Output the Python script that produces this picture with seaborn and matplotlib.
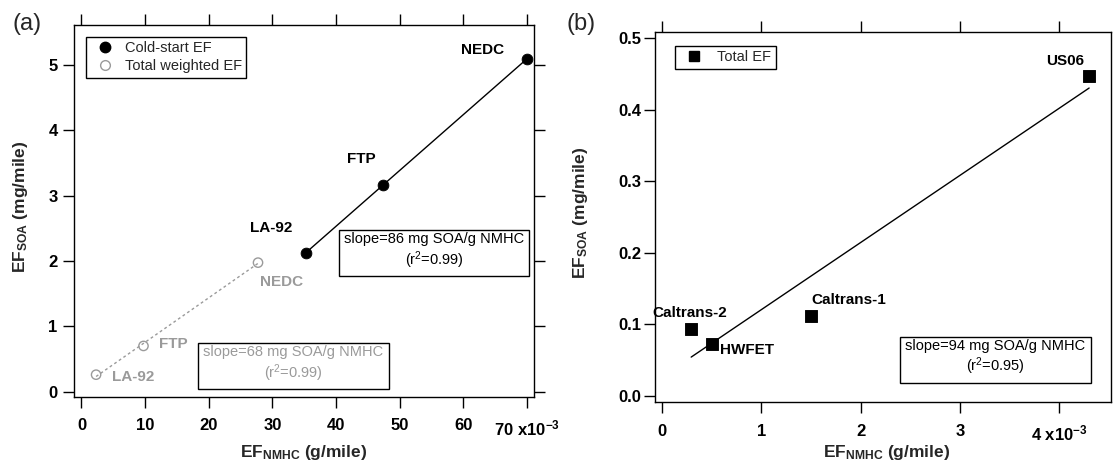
import numpy as np
import pandas as pd
import matplotlib
matplotlib.use("Agg")
import matplotlib.pyplot as plt
import seaborn as sns
from matplotlib.lines import Line2D

# ---------------- data ----------------
cycles_a = ["LA-92", "FTP", "NEDC"]
cold_nmhc = [35.25, 47.4, 70.0]      # x10^-3 g/mile
cold_soa = [2.12, 3.17, 5.09]        # mg/mile
total_nmhc = [2.3, 9.75, 27.75]
total_soa = [0.26, 0.70, 1.975]

cycles_b = ["Caltrans-2", "HWFET", "Caltrans-1", "US06"]
b_nmhc = [0.293, 0.50, 1.497, 4.30]
b_soa = [0.093, 0.073, 0.112, 0.447]

xticks_a = [0, 10, 20, 30, 40, 50, 60, 70]
xticklabels_a = ["0", "10", "20", "30", "40", "50", "60", "70 x10$^{-3}$"]
yticks_a = [0, 1, 2, 3, 4, 5]
xticks_b = [0, 1, 2, 3, 4]
xticklabels_b = ["0", "1", "2", "3", "4 x10$^{-3}$"]
yticks_b = [0.0, 0.1, 0.2, 0.3, 0.4, 0.5]

text_a_cold = "slope=86 mg SOA/g NMHC\n(r$^2$=0.99)"
text_a_total = "slope=68 mg SOA/g NMHC\n(r$^2$=0.99)"
text_b = "slope=94 mg SOA/g NMHC\n(r$^2$=0.95)"

# ---------------- style ----------------
sns.set_style("ticks")
plt.rcParams['font.family'] = ['Liberation Sans', 'DejaVu Sans']
plt.rcParams['mathtext.default'] = 'regular'
plt.rcParams['axes.edgecolor'] = 'black'
plt.rcParams['xtick.color'] = 'black'
plt.rcParams['ytick.color'] = 'black'

GRAY = '#9a9a9a'

fig = plt.figure(figsize=(11.16, 4.63), dpi=100)
axA = fig.add_axes([0.0666, 0.1432, 0.4118, 0.8028])
axB = fig.add_axes([0.5869, 0.1324, 0.4086, 0.7991])


def fit_line(x, y):
    p = np.polyfit(x, y, 1)
    xs = np.array([min(x), max(x)])
    return xs, np.polyval(p, xs)


# ---------------- panel (a) ----------------
df_cold = pd.DataFrame({"nmhc": cold_nmhc, "soa": cold_soa, "cycle": cycles_a})
df_total = pd.DataFrame({"nmhc": total_nmhc, "soa": total_soa, "cycle": cycles_a})

xs, ys = fit_line(cold_nmhc, cold_soa)
sns.lineplot(x=xs, y=ys, ax=axA, color='black', lw=1.0, sort=False)
xs, ys = fit_line(total_nmhc, total_soa)
sns.lineplot(x=xs, y=ys, ax=axA, color=GRAY, lw=1.0, sort=False,
             linestyle=(0, (2, 2)))

sns.scatterplot(data=df_cold, x="nmhc", y="soa", ax=axA, color='black',
                edgecolor='black', s=60, marker='o', zorder=3)
sns.scatterplot(data=df_total, x="nmhc", y="soa", ax=axA,
                facecolor='none', edgecolor=GRAY, linewidth=1.0, s=45,
                marker='o', zorder=3)

cold_offsets = [(-25.2, 18.4), (-16, 18.2), (-31.6, 6.7)]
total_offsets = [(26.9, -1.9), (21.6, 1.2), (16.6, -14.1)]
for (name, x, y), off in zip(zip(cycles_a, cold_nmhc, cold_soa), cold_offsets):
    axA.annotate(name, (x, y), xytext=off, textcoords='offset points',
                 ha='center', va='center', fontsize=11, fontweight='bold',
                 color='black')
for (name, x, y), off in zip(zip(cycles_a, total_nmhc, total_soa), total_offsets):
    axA.annotate(name, (x, y), xytext=off, textcoords='offset points',
                 ha='center', va='center', fontsize=11, fontweight='bold',
                 color=GRAY)

axA.text(0.7826, 0.390, text_a_cold, transform=axA.transAxes, ha='center',
         va='center', multialignment='center', fontsize=10.5, color='black',
         bbox=dict(boxstyle='square,pad=0.35', fc='white', ec='black', lw=1.0))
axA.text(0.4767, 0.086, text_a_total, transform=axA.transAxes, ha='center',
         va='center', multialignment='center', fontsize=10.5, color=GRAY,
         bbox=dict(boxstyle='square,pad=0.35', fc='white', ec='black', lw=1.0))

axA.set_xlim(-1.12, 71.11)
axA.set_ylim(-0.077, 5.612)
axA.set_xticks(xticks_a, xticklabels_a, fontweight='bold', fontsize=12)
axA.set_yticks(yticks_a, [str(v) for v in yticks_a], fontweight='bold', fontsize=12)
axA.tick_params(direction='out', length=8, width=1,
                top=True, right=True, labeltop=False, labelright=False)
axA.tick_params(axis='x', pad=7.5)
axA.tick_params(axis='y', pad=4)
axA.set_xlabel("EF$_{NMHC}$ (g/mile)", fontsize=12.5, fontweight='bold')
axA.set_ylabel("EF$_{SOA}$ (mg/mile)", fontsize=12.5, fontweight='bold')
axA.xaxis.set_label_coords(0.499, -0.125)
axA.yaxis.set_label_coords(-0.097, 0.51)

handles_a = [
    Line2D([], [], marker='o', ls='none', color='black', markersize=7.5),
    Line2D([], [], marker='o', ls='none', markerfacecolor='none',
           markeredgecolor=GRAY, markersize=7),
]
legA = axA.legend(handles_a, ["Cold-start EF", "Total weighted EF"],
                  loc='upper left', bbox_to_anchor=(0.0248, 0.9685),
                  borderaxespad=0, fontsize=10.5, frameon=True, fancybox=False,
                  edgecolor='black', handlelength=2.0, handletextpad=0.38,
                  borderpad=0.3, labelspacing=0.3)
legA.get_frame().set_linewidth(1.0)
legA.get_frame().set_alpha(1)

# ---------------- panel (b) ----------------
df_b = pd.DataFrame({"nmhc": b_nmhc, "soa": b_soa, "cycle": cycles_b})
xs, ys = fit_line(b_nmhc, b_soa)
sns.lineplot(x=xs, y=ys, ax=axB, color='black', lw=1.0, sort=False)
sns.scatterplot(data=df_b, x="nmhc", y="soa", ax=axB, color='black',
                edgecolor='black', s=65, marker='s', zorder=3)

b_offsets = [(-1.3, 11.5), (25.5, -4.8), (27.6, 11.3), (-17.5, 11)]
for (name, x, y), off in zip(zip(cycles_b, b_nmhc, b_soa), b_offsets):
    axB.annotate(name, (x, y), xytext=off, textcoords='offset points',
                 ha='center', va='center', fontsize=11, fontweight='bold',
                 color='black')

axB.text(0.7467, 0.118, text_b, transform=axB.transAxes, ha='center',
         va='center', multialignment='center', fontsize=10.5, color='black',
         bbox=dict(boxstyle='square,pad=0.35', fc='white', ec='black', lw=1.0))

axB.set_xlim(-0.0715, 4.52)
axB.set_ylim(-0.0084, 0.5092)
axB.set_xticks(xticks_b, xticklabels_b, fontweight='bold', fontsize=12)
axB.set_yticks(yticks_b, [f"{v:.1f}" for v in yticks_b], fontweight='bold', fontsize=12)
axB.tick_params(direction='out', length=8, width=1,
                top=True, labeltop=False)
axB.tick_params(axis='x', pad=8)
axB.tick_params(axis='y', pad=2)
axB.set_xlabel("EF$_{NMHC}$ (g/mile)", fontsize=12.5, fontweight='bold')
axB.set_ylabel("EF$_{SOA}$ (mg/mile)", fontsize=12.5, fontweight='bold')
axB.xaxis.set_label_coords(0.507, -0.111)
axB.yaxis.set_label_coords(-0.143, 0.51)

handles_b = [Line2D([], [], marker='s', ls='none', color='black', markersize=7.5)]
legB = axB.legend(handles_b, ["Total EF"], loc='upper left',
                  bbox_to_anchor=(0.0443, 0.9614), borderaxespad=0,
                  fontsize=10.5, frameon=True, fancybox=False,
                  edgecolor='black', handlelength=2.0, handletextpad=0.6,
                  borderpad=0.3)
legB.get_frame().set_linewidth(1.0)
legB.get_frame().set_alpha(1)

for ax in (axA, axB):
    for sp in ax.spines.values():
        sp.set_linewidth(1.0)
        sp.set_color('black')

fig.text(0.0112, 0.972, "(a)", fontsize=17, va='top', ha='left')
fig.text(0.508, 0.972, "(b)", fontsize=17, va='top', ha='left')

fig.savefig("out.png", dpi=100)
